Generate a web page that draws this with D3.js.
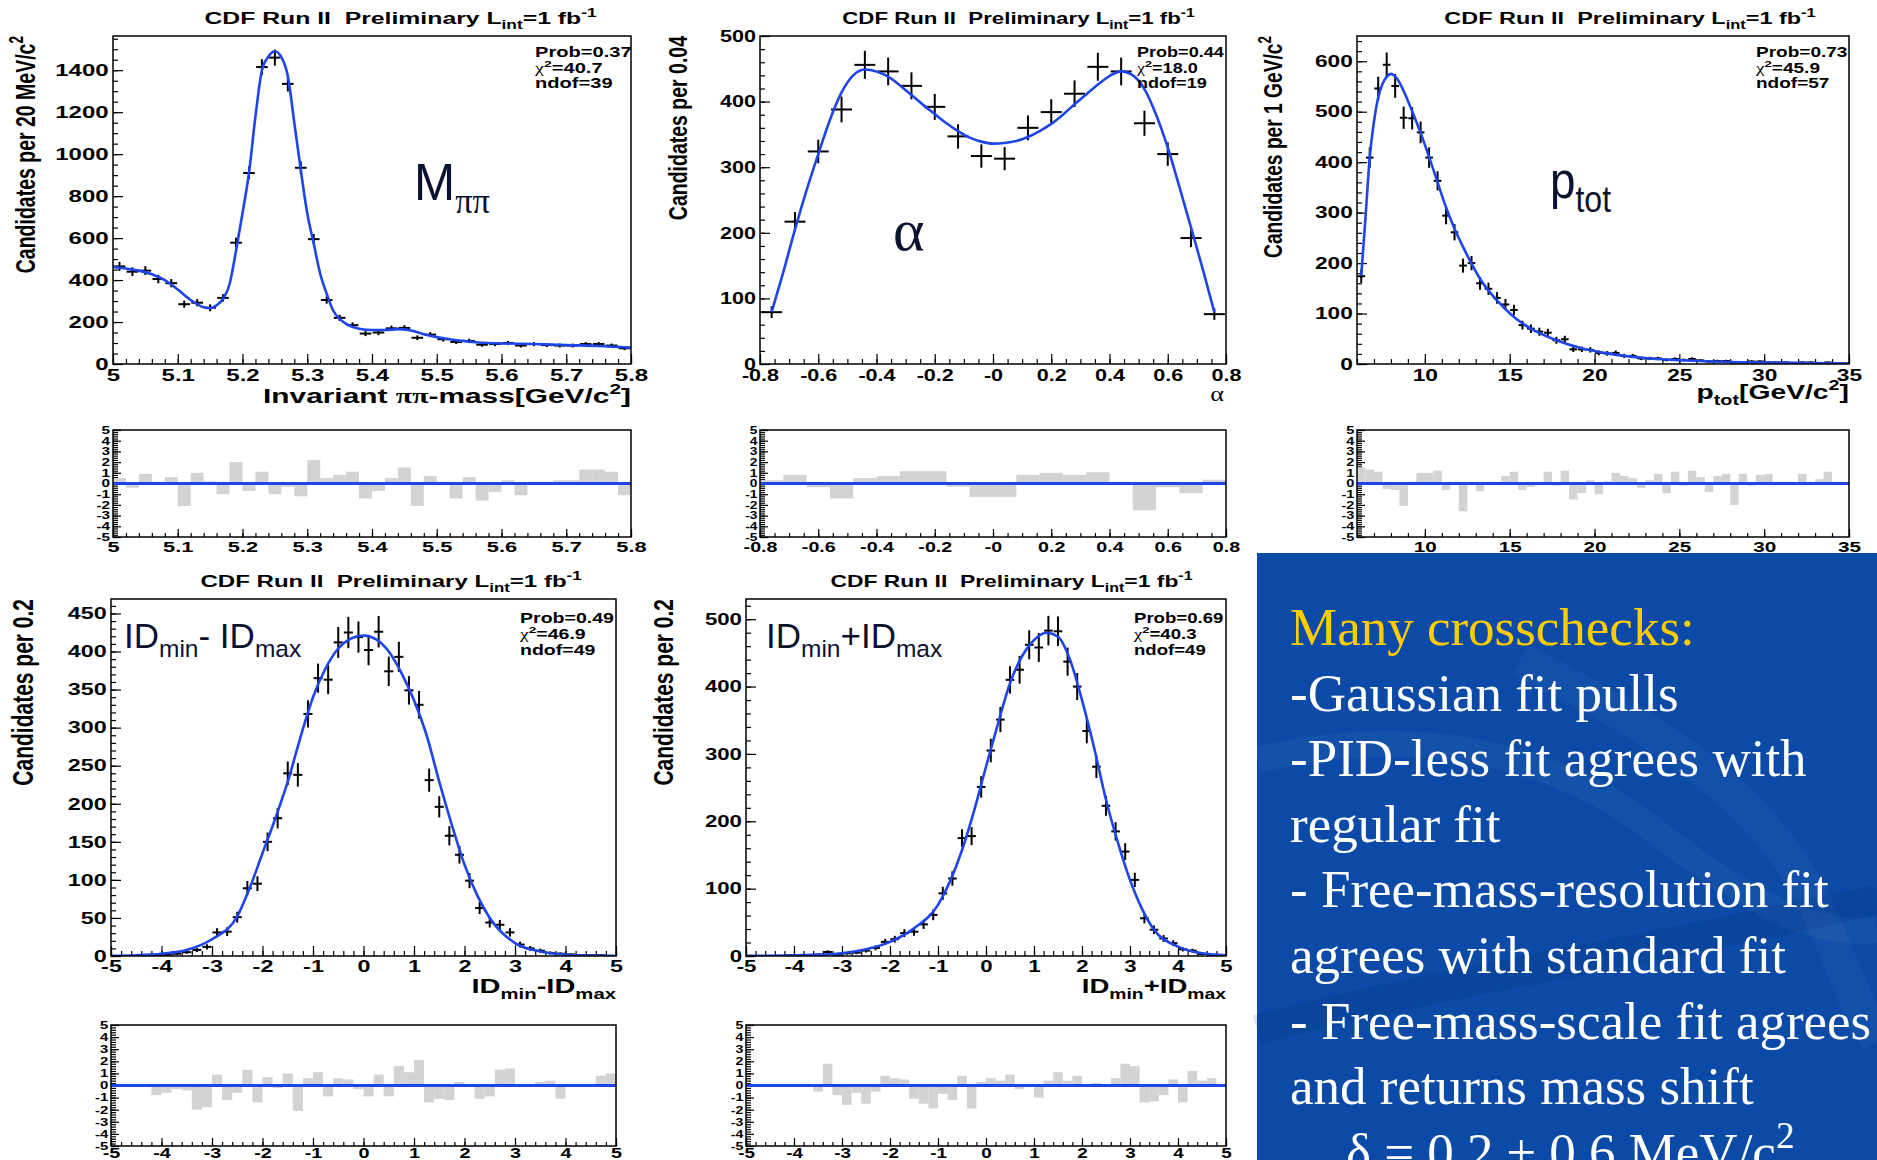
<!DOCTYPE html>
<html>
<head>
<meta charset="utf-8">
<script src="https://d3js.org/d3.v7.min.js"></script>
<style>
  body { margin: 0; background: #ffffff; }
  #canvas { display: block; }
</style>
</head>
<body>
<svg id="canvas" width="1877" height="1160"></svg>
<script>
// ---------- values ----------

// invariant pi-pi mass, 20 MeV/c^2 bins starting at 5.0
const massLow = 5.0;
const massBinWidth = 0.02;
const massCounts = [465, 440, 445, 405, 385, 285, 292, 268, 315, 578, 910, 1415, 1460, 1335, 935, 595, 305, 220, 185, 145,
    150, 170, 172, 125, 140, 118, 105, 110, 92, 95, 100, 88, 95, 90, 88, 88, 95, 95, 88, 75];
const massPulls = [0.5, -0.4, 0.9, -0.1, 0.6, -2.1, 1.0, 0.2, -1.0, 2.0, -0.7, 1.1, -1.0, -0.3, -1.2, 2.2, 0.5, 0.8, 1.1, -1.4,
    -0.7, 0.5, 1.5, -2.1, 0.7, -0.1, -1.4, 0.6, -1.6, -0.8, 0.3, -1.1, 0.05, 0.1, 0.3, 0.3, 1.3, 1.3, 1.1, -1.1];
const massFitX = [5.00, 5.02, 5.04, 5.06, 5.08, 5.10, 5.12, 5.14, 5.15, 5.16, 5.17, 5.18, 5.19, 5.20, 5.21, 5.22, 5.23, 5.24,
    5.25, 5.26, 5.27, 5.28, 5.29, 5.30, 5.31, 5.32, 5.33, 5.34, 5.35, 5.36, 5.38, 5.40, 5.42, 5.44, 5.46, 5.48, 5.50, 5.52,
    5.54, 5.56, 5.58, 5.60, 5.65, 5.70, 5.75, 5.80];
const massFitY = [462, 455, 445, 428, 400, 355, 305, 270, 266, 280, 311, 380, 540, 718, 910, 1180, 1400, 1465,
    1490, 1462, 1372, 1150, 925, 718, 574, 430, 335, 255, 215, 191, 168, 162, 162, 166, 160, 142, 128, 118,
    110, 104, 100, 98, 95, 90, 86, 78];
const massXTicks = [5, 5.1, 5.2, 5.3, 5.4, 5.5, 5.6, 5.7, 5.8];
const massXLabels = ["5", "5.1", "5.2", "5.3", "5.4", "5.5", "5.6", "5.7", "5.8"];
const massYTicks = [0, 200, 400, 600, 800, 1000, 1200, 1400];

// alpha, bins of 0.08 from -0.8
const alphaLow = -0.8;
const alphaBinWidth = 0.08;
const alphaCounts = [79, 217, 324, 388, 456, 446, 424, 392, 347, 317, 313, 360, 384, 412, 453, 446, 367, 320, 192, 76];
const alphaPulls = [0.3, 0.8, -0.35, -1.4, 0.5, 0.7, 1.15, 1.15, -0.3, -1.25, -1.25, 0.8, 1.0, 0.8, 1.05, 0, -2.5, -0.35, -0.9, 0.35];
const alphaFitX = [-0.76, -0.72, -0.68, -0.64, -0.60, -0.56, -0.52, -0.48, -0.44, -0.40, -0.36, -0.32, -0.28, -0.24, -0.20,
    -0.16, -0.12, -0.08, -0.04, 0, 0.04, 0.08, 0.12, 0.16, 0.20, 0.24, 0.28, 0.32, 0.36, 0.40, 0.44, 0.48, 0.52, 0.56,
    0.60, 0.64, 0.68, 0.72, 0.76];
const alphaFitY = [79, 140, 205, 265, 320, 372, 414, 440, 449, 446, 438, 425, 410, 395, 381,
    367, 355, 345, 339, 336, 337, 340, 346, 355, 366, 380, 396, 411, 426, 439, 446, 440, 419, 380,
    330, 270, 208, 145, 79];
const alphaXTicks = [-0.8, -0.6, -0.4, -0.2, 0, 0.2, 0.4, 0.6, 0.8];
const alphaXLabels = ["-0.8", "-0.6", "-0.4", "-0.2", "-0", "0.2", "0.4", "0.6", "0.8"];
const alphaYTicks = [0, 100, 200, 300, 400, 500];

// total momentum, bins of 0.5 GeV from 6
const ptotLow = 6.0;
const ptotBinWidth = 0.5;
const ptotCounts = [174, 409, 546, 593, 551, 488, 487, 459, 409, 363, 294, 261, 195, 200, 160, 149, 131, 118, 107, 77,
    70, 64, 62, 47, 49, 29, 29, 28, 22, 21, 22, 16, 16, 11, 11, 11, 8, 10, 8, 10,
    7, 5, 6, 6, 3, 3, 5, 5, 3, 3, 3, 1, 3, 3, 1, 3, 1, 1];
const ptotPulls = [1.5, 1.3, 1.1, -0.5, -0.6, -2.1, -0.1, 1.0, 1.0, 1.2, -0.6, 0.05, -2.6, 0.05, -0.7, 0, 0, 0.7, 1.1, -0.6,
    -0.3, 0, 1.1, -0.2, 1.2, -1.5, -0.9, 0.3, -1.0, 0.2, 1.0, 0.7, 0.5, -0.4, 0.3, 0.9, -0.9, 1.1, -0.2, 1.2,
    0.6, -0.8, 0.7, 0.9, -2.0, 0.9, -0.2, 0.8, 0.9, 0, 0, -0.1, 0.9, 0, 0.4, 1.1, 0, 0];
const ptotFitX = [6.25, 6.5, 6.75, 7.0, 7.25, 7.5, 7.75, 8.0, 8.25, 8.5, 8.75, 9.25, 9.75, 10.25, 10.75, 11.25, 11.75,
    12.25, 12.75, 13.25, 14.25, 15.25, 16.25, 17.75, 19.25, 20.75, 23.25, 25.5, 28, 30.25, 35];
const ptotFitY = [175, 290, 409, 480, 528, 555, 569, 575, 570, 558, 541, 501, 458, 410, 360, 310, 268,
    232, 199, 169, 126, 93, 70, 47, 31, 21, 11, 7, 4, 3, 1];
const ptotXTicks = [10, 15, 20, 25, 30, 35];
const ptotXLabels = ["10", "15", "20", "25", "30", "35"];
const ptotYTicks = [0, 100, 200, 300, 400, 500, 600];

// ID_min - ID_max, bins of 0.2 from -5
const idDiffLow = -5;
const idDiffBinWidth = 0.2;
const idDiffCounts = [0, 0, 0, 1, 1, 2, 3, 5, 8, 12, 31, 32, 51, 89, 95, 150, 181, 240, 238, 318,
    365, 363, 412, 425, 419, 402, 426, 374, 393, 349, 330, 231, 196, 158, 133, 99, 63, 44, 41, 31,
    15, 10, 7, 4, 3, 2, 1, 1, 1, 0];
const idDiffPulls = [0, 0, 0, 0, -0.8, -0.6, -0.3, -0.4, -2.0, -1.8, 0.9, -1.2, -0.6, 1.3, -1.4, 0.7, -0.2, 1.0, -2.1, 0.6,
    1.1, -0.9, 0.6, 0.5, -0.3, -0.9, 0.9, -0.9, 1.6, 1.1, 2.1, -1.4, -1.1, -1.2, 0.3, 0, -1.1, -0.9, 1.3, 1.4,
    0, 0, 0.3, 0.4, -1.1, 0, 0, 0, 0.8, 1.0];
const idDiffFitX = [-5, -4.5, -4, -3.5, -3, -2.5, -2.25, -2, -1.75, -1.5, -1.25, -1, -0.75, -0.5, -0.25, 0, 0.25, 0.5,
    0.75, 1, 1.25, 1.5, 1.75, 2, 2.25, 2.5, 3, 3.5, 4, 4.5, 5];
const idDiffFitY = [0.3, 1, 3, 8, 22, 52, 90, 135, 180, 229, 287, 340, 378, 404, 417, 421, 416, 400,
    372, 336, 290, 229, 172, 120, 80, 50, 17, 6, 2, 0.5, 0.2];
const idDiffYTicks = [0, 50, 100, 150, 200, 250, 300, 350, 400, 450];

// ID_min + ID_max, bins of 0.2 from -5
const idSumLow = -5;
const idSumBinWidth = 0.2;
const idSumCounts = [0, 0, 0, 0, 1, 1, 1, 2, 6, 2, 4, 5, 8, 12, 21, 25, 34, 36, 47, 61,
    93, 115, 175, 178, 251, 305, 351, 410, 425, 462, 458, 483, 482, 437, 400, 334, 281, 223, 185, 155,
    113, 56, 39, 26, 19, 10, 8, 3, 1, 1];
const idSumPulls = [0, 0, 0, 0, 0, 0, 0, -0.5, 1.8, -0.8, -1.6, -0.6, -1.5, -0.5, 0.8, 0.6, 0.5, -1.1, -1.5, -1.9,
    -0.7, -1.2, 0.8, -1.9, 0.3, 0.6, 0.4, 0.9, -0.3, 0, -1.0, 0.4, 1.1, 0.4, 0.8, 0, 0.2, -0.1, 0.6, 1.8,
    1.6, -1.4, -1.3, -0.8, 0.5, -1.4, 1.2, 0.4, 0.6, 0];
const idSumFitX = [-5, -4, -3.5, -3, -2.5, -2, -1.5, -1, -0.5, -0.25, 0, 0.25, 0.5, 0.75, 1, 1.25, 1.5, 1.75, 2,
    2.25, 2.5, 2.75, 3, 3.25, 3.5, 4, 4.5, 5];
const idSumFitY = [0.2, 1, 2, 4, 10, 21, 41, 76, 157, 215, 281, 345, 405, 445, 469, 480, 474, 440, 380,
    310, 232, 168, 113, 70, 39, 14, 4, 1];
const idSumYTicks = [0, 100, 200, 300, 400, 500];

const idXTicks = [-5, -4, -3, -2, -1, 0, 1, 2, 3, 4, 5];
const idXLabels = ["-5", "-4", "-3", "-2", "-1", "0", "1", "2", "3", "4", "5"];
const pullTicks = [-5, -4, -3, -2, -1, 0, 1, 2, 3, 4, 5];

// fit quality boxes
const statProb = ["0.37", "0.44", "0.73", "0.49", "0.69"];
const statChi2 = ["40.7", "18.0", "45.9", "46.9", "40.3"];
const statNdof = ["39", "19", "57", "49", "49"];

const plotTitle = ["CDF Run II  Preliminary L", { t: "int", sub: true }, "=1 fb", { t: "-1", sup: true }];

const boxLines = [
    "Many crosschecks:",
    "-Gaussian fit pulls",
    "-PID-less fit agrees with",
    "regular fit",
    "- Free-mass-resolution fit",
    "agrees with standard fit",
    "- Free-mass-scale fit agrees",
    "and returns mass shift"
];

// ---------- drawing ----------
const sans = "'Liberation Sans', Arial, Helvetica, sans-serif";
const serif = "'Liberation Serif', 'Times New Roman', serif";
const fitBlue = "#1d45e8";
const labelInk = "#0b1230";

const svg = d3.select("#canvas");
svg.append("rect").attr("width", 1877).attr("height", 1160).attr("fill", "#ffffff");

const richText = (parent, x, y, parts, o) => {
    let tf = `translate(${x},${y}) scale(${o.sx || 1},1)`;
    if (o.rotate) tf += " rotate(-90)";
    const g = parent.append("g").attr("transform", tf);
    const text = g.append("text")
        .attr("text-anchor", o.anchor || "start")
        .attr("font-family", o.family || sans)
        .attr("font-weight", o.weight || "bold")
        .attr("font-size", o.size)
        .attr("fill", o.fill || "#000")
        .style("white-space", "pre");
    const subShift = (o.subShift || 0.3) * o.size;
    const supShift = -0.42 * o.size;
    let shift = 0;
    parts.forEach(part => {
        const p = typeof part === "string" ? { t: part } : part;
        const target = p.sub ? subShift : p.sup ? supShift : 0;
        const span = text.append("tspan").attr("dy", target - shift).text(p.t);
        shift = target;
        if (p.sub || p.sup) span.attr("font-size", o.size * 0.7);
        if (p.family) span.attr("font-family", p.family);
        if (p.weight) span.attr("font-weight", p.weight);
    });
    return { g, text };
};

const minorTicks = (domain, step) => {
    const out = [];
    for (let k = Math.ceil(domain[0] / step - 1e-6); k * step <= domain[1] + 1e-9; k++) {
        out.push(+(k * step).toFixed(6));
    }
    return out;
};

// ROOT style: ticks inside the frame, only on left and bottom
const drawAxes = (g, x, y, a, sx) => {
    const bottom = y.range()[0];
    const left = x.range()[0];

    g.append("g").attr("transform", `translate(0,${bottom})`)
        .call(d3.axisBottom(x).tickValues(minorTicks(x.domain(), a.xMinor)).tickFormat("")
            .tickSizeInner(-a.minorLen).tickSizeOuter(0))
        .call(s => s.select(".domain").remove());
    const xa = g.append("g").attr("transform", `translate(0,${bottom})`)
        .call(d3.axisBottom(x).tickValues(a.xTicks).tickFormat((d, i) => a.xLabels[i])
            .tickSizeInner(-a.majorLen).tickSizeOuter(0).tickPadding(a.xPad))
        .call(s => s.select(".domain").remove());
    xa.attr("font-size", a.xFont).attr("font-family", sans).attr("font-weight", "bold");
    xa.selectAll("text").attr("transform", `scale(${sx},1)`);

    g.append("g").attr("transform", `translate(${left},0)`)
        .call(d3.axisLeft(y).tickValues(minorTicks(y.domain(), a.yMinor)).tickFormat("")
            .tickSizeInner(-a.yMinorLen).tickSizeOuter(0))
        .call(s => s.select(".domain").remove());
    const ya = g.append("g").attr("transform", `translate(${left},0)`)
        .call(d3.axisLeft(y).tickValues(a.yTicks).tickFormat(d => d)
            .tickSizeInner(-a.yMajorLen).tickSizeOuter(0).tickPadding(a.yPad))
        .call(s => s.select(".domain").remove());
    ya.attr("font-size", a.yFont).attr("font-family", sans).attr("font-weight", "bold");
    ya.selectAll("text").attr("transform", `scale(${sx},1)`);

    g.selectAll(".tick line").attr("stroke-width", 1.2);
};

const drawPanel = p => {
    const f = p.frame;
    const g = svg.append("g");

    // title sets the horizontal stretch used for every ROOT text of the panel
    const title = richText(g, (p.titleSpan[0] + p.titleSpan[1]) / 2, p.titleBase, plotTitle,
        { size: p.titleSize, anchor: "middle" });
    const sx = (p.titleSpan[1] - p.titleSpan[0]) / title.text.node().getBBox().width;
    title.g.attr("transform", `translate(${(p.titleSpan[0] + p.titleSpan[1]) / 2},${p.titleBase}) scale(${sx},1)`);

    const x = d3.scaleLinear().domain(p.xDomain).range([f.left, f.right]);
    const y = d3.scaleLinear().domain([0, p.yMax]).range([f.bottom, f.top]);

    const clipId = "clip-" + p.id;
    svg.append("clipPath").attr("id", clipId).append("rect")
        .attr("x", f.left).attr("y", f.top)
        .attr("width", f.right - f.left).attr("height", f.bottom - f.top);

    drawAxes(g, x, y, {
        xTicks: p.xTicks, xLabels: p.xLabels, xMinor: p.xMinor, xFont: 16.5, xPad: p.xPad,
        yTicks: p.yTicks, yMinor: p.yMinor, yFont: 16.5, yPad: 3,
        majorLen: 10, minorLen: 5, yMajorLen: 10, yMinorLen: 5
    }, sx);

    const bins = p.counts.map((n, i) => ({ c: p.low + (i + 0.5) * p.width, n }))
        .filter(d => d.n > 0);

    const marks = g.append("g").attr("clip-path", `url(#${clipId})`)
        .attr("stroke", "#000").attr("stroke-width", 2);
    marks.selectAll("line.hbar").data(bins).enter().append("line").attr("class", "hbar")
        .attr("x1", d => x(d.c - p.width * 0.45)).attr("x2", d => x(d.c + p.width * 0.45))
        .attr("y1", d => y(d.n)).attr("y2", d => y(d.n));
    marks.selectAll("line.vbar").data(bins).enter().append("line").attr("class", "vbar")
        .attr("x1", d => x(d.c)).attr("x2", d => x(d.c))
        .attr("y1", d => y(d.n - Math.sqrt(d.n))).attr("y2", d => y(d.n + Math.sqrt(d.n)));

    const fit = p.fitX.map((v, i) => [v, p.fitY[i]]);
    g.append("path").datum(fit)
        .attr("clip-path", `url(#${clipId})`)
        .attr("fill", "none").attr("stroke", fitBlue).attr("stroke-width", 2.6)
        .attr("d", d3.line().x(d => x(d[0])).y(d => y(d[1])).curve(d3.curveMonotoneX));

    g.append("rect").attr("x", f.left).attr("y", f.top)
        .attr("width", f.right - f.left).attr("height", f.bottom - f.top)
        .attr("fill", "none").attr("stroke", "#000").attr("stroke-width", 1.5);

    // fit quality
    const k = p.statIndex;
    const statLines = [
        ["Prob=" + statProb[k]],
        [{ t: "χ", family: serif, weight: "normal" }, { t: "2", sup: true }, "=" + statChi2[k]],
        ["ndof=" + statNdof[k]]
    ];
    statLines.forEach((line, i) => {
        richText(g, p.statsX, p.statsBase + i * p.statsGap, line, { size: 13.8, sx });
    });

    // axis titles
    richText(g, p.yTitleX, f.top, p.yTitle, { size: p.yTitleSize, anchor: "end", rotate: true, sx });
    richText(g, p.xTitleRight, p.xTitleBase, p.xTitle,
        { size: p.xTitleSize, anchor: "end", sx, family: p.xTitleFamily, weight: p.xTitleWeight });

    // large overlay label
    const b = p.big;
    richText(g, b.x, b.y, b.parts, {
        size: b.size, weight: "normal", family: b.family, fill: labelInk,
        subShift: b.subShift, sx: b.sx
    });

    // pulls
    const py = d3.scaleLinear().domain([-5, 5]).range([p.pullBottom, p.pullTop]);
    const pg = svg.append("g");
    drawAxes(pg, x, py, {
        xTicks: p.xTicks, xLabels: p.xLabels, xMinor: p.xMinor, xFont: p.pullXFont, xPad: p.pullXPad,
        yTicks: pullTicks, yMinor: 0.2, yFont: 10.5, yPad: 2,
        majorLen: 8, minorLen: 4, yMajorLen: 8, yMinorLen: 5
    }, sx);

    pg.append("g").selectAll("rect").data(p.pulls).enter().append("rect")
        .attr("x", (v, i) => x(p.low + i * p.width))
        .attr("width", (v, i) => x(p.low + (i + 1) * p.width) - x(p.low + i * p.width))
        .attr("y", v => py(Math.max(v, 0)))
        .attr("height", v => Math.abs(py(v) - py(0)))
        .attr("fill", "#d3d3d3");
    pg.append("line")
        .attr("x1", f.left).attr("x2", f.right)
        .attr("y1", py(0)).attr("y2", py(0))
        .attr("stroke", fitBlue).attr("stroke-width", 3);
    pg.append("rect").attr("x", f.left).attr("y", p.pullTop)
        .attr("width", f.right - f.left).attr("height", p.pullBottom - p.pullTop)
        .attr("fill", "none").attr("stroke", "#000").attr("stroke-width", 1.5);
};

const topRow = { top: 36, bottom: 364, pullTop: 430, pullBottom: 537 };
const bottomRow = { top: 599, bottom: 956, pullTop: 1025, pullBottom: 1146 };

const panels = [
    {
        id: "mass", statIndex: 0,
        frame: { left: 113, right: 631, top: topRow.top, bottom: topRow.bottom },
        pullTop: topRow.pullTop, pullBottom: topRow.pullBottom,
        titleSpan: [204, 597], titleBase: 24, titleSize: 17,
        xDomain: [5.0, 5.8], yMax: 1563, xMinor: 0.02, yMinor: 50, xPad: 5.5,
        low: massLow, width: massBinWidth, counts: massCounts, pulls: massPulls,
        fitX: massFitX, fitY: massFitY,
        xTicks: massXTicks, xLabels: massXLabels, yTicks: massYTicks,
        statsX: 535, statsBase: 57, statsGap: 15.5,
        yTitle: ["Candidates per 20 MeV/c", { t: "2", sup: true }], yTitleX: 35, yTitleSize: 19.5,
        xTitle: ["Invariant ", { t: "ππ", family: serif }, "-mass[GeV/c", { t: "2", sup: true }, "]"],
        xTitleRight: 631, xTitleBase: 403, xTitleSize: 20.5,
        pullXFont: 15, pullXPad: 4.4,
        big: { x: 414, y: 200, size: 52, sx: 0.95, subShift: 0.25, parts: ["M", { t: "ππ", sub: true, family: serif }] }
    },
    {
        id: "alpha", statIndex: 1,
        frame: { left: 760, right: 1226, top: topRow.top, bottom: topRow.bottom },
        pullTop: topRow.pullTop, pullBottom: topRow.pullBottom,
        titleSpan: [842, 1195], titleBase: 24, titleSize: 17,
        xDomain: [-0.8, 0.8], yMax: 500, xMinor: 0.05, yMinor: 20, xPad: 5.5,
        low: alphaLow, width: alphaBinWidth, counts: alphaCounts, pulls: alphaPulls,
        fitX: alphaFitX, fitY: alphaFitY,
        xTicks: alphaXTicks, xLabels: alphaXLabels, yTicks: alphaYTicks,
        statsX: 1137, statsBase: 57, statsGap: 15.5,
        yTitle: ["Candidates per 0.04"], yTitleX: 687, yTitleSize: 19.5,
        xTitle: ["α"], xTitleRight: 1224, xTitleBase: 401, xTitleSize: 20,
        xTitleFamily: serif, xTitleWeight: "normal",
        pullXFont: 15, pullXPad: 4.4,
        big: { x: 893, y: 250, size: 60, sx: 1, family: serif, parts: ["α"] }
    },
    {
        id: "ptot", statIndex: 2,
        frame: { left: 1357, right: 1849, top: topRow.top, bottom: topRow.bottom },
        pullTop: topRow.pullTop, pullBottom: topRow.pullBottom,
        titleSpan: [1444, 1816], titleBase: 24, titleSize: 17,
        xDomain: [6, 35], yMax: 650, xMinor: 1, yMinor: 20, xPad: 5.5,
        low: ptotLow, width: ptotBinWidth, counts: ptotCounts, pulls: ptotPulls,
        fitX: ptotFitX, fitY: ptotFitY,
        xTicks: ptotXTicks, xLabels: ptotXLabels, yTicks: ptotYTicks,
        statsX: 1756, statsBase: 57, statsGap: 15.5,
        yTitle: ["Candidates per 1 GeV/c", { t: "2", sup: true }], yTitleX: 1282, yTitleSize: 19.2,
        xTitle: ["p", { t: "tot", sub: true }, "[GeV/c", { t: "2", sup: true }, "]"],
        xTitleRight: 1849, xTitleBase: 399, xTitleSize: 20.5,
        pullXFont: 15, pullXPad: 4.4,
        big: { x: 1550, y: 198, size: 52, sx: 0.88, subShift: 0.27, parts: ["p", { t: "tot", sub: true }] }
    },
    {
        id: "iddiff", statIndex: 3,
        frame: { left: 111, right: 616, top: bottomRow.top, bottom: bottomRow.bottom },
        pullTop: bottomRow.pullTop, pullBottom: bottomRow.pullBottom,
        titleSpan: [200, 582], titleBase: 587, titleSize: 17,
        xDomain: [-5, 5], yMax: 469, xMinor: 0.2, yMinor: 10, xPad: 4.6,
        low: idDiffLow, width: idDiffBinWidth, counts: idDiffCounts, pulls: idDiffPulls,
        fitX: idDiffFitX, fitY: idDiffFitY,
        xTicks: idXTicks, xLabels: idXLabels, yTicks: idDiffYTicks,
        statsX: 520, statsBase: 623, statsGap: 16,
        yTitle: ["Candidates per 0.2"], yTitleX: 33, yTitleSize: 21,
        xTitle: ["ID", { t: "min", sub: true }, "-ID", { t: "max", sub: true }],
        xTitleRight: 616, xTitleBase: 993, xTitleSize: 20.5,
        pullXFont: 14, pullXPad: 2,
        big: { x: 124, y: 648, size: 35, sx: 1, subShift: 0.26,
            parts: ["ID", { t: "min", sub: true }, "- ID", { t: "max", sub: true }] }
    },
    {
        id: "idsum", statIndex: 4,
        frame: { left: 746, right: 1226, top: bottomRow.top, bottom: bottomRow.bottom },
        pullTop: bottomRow.pullTop, pullBottom: bottomRow.pullBottom,
        titleSpan: [830, 1193], titleBase: 587, titleSize: 17,
        xDomain: [-5, 5], yMax: 530, xMinor: 0.2, yMinor: 20, xPad: 4.6,
        low: idSumLow, width: idSumBinWidth, counts: idSumCounts, pulls: idSumPulls,
        fitX: idSumFitX, fitY: idSumFitY,
        xTicks: idXTicks, xLabels: idXLabels, yTicks: idSumYTicks,
        statsX: 1134, statsBase: 623, statsGap: 16,
        yTitle: ["Candidates per 0.2"], yTitleX: 673, yTitleSize: 21,
        xTitle: ["ID", { t: "min", sub: true }, "+ID", { t: "max", sub: true }],
        xTitleRight: 1226, xTitleBase: 993, xTitleSize: 20.5,
        pullXFont: 14, pullXPad: 2,
        big: { x: 766, y: 648, size: 35, sx: 1, subShift: 0.26,
            parts: ["ID", { t: "min", sub: true }, "+ID", { t: "max", sub: true }] }
    }
];

panels.forEach(drawPanel);

// ---------- slide text box ----------
const box = svg.append("g");
box.append("rect").attr("x", 1257).attr("y", 553).attr("width", 620).attr("height", 607).attr("fill", "#0b4aa6");
box.append("path")
    .attr("d", "M1257,760 C1420,720 1560,760 1640,820 C1720,880 1800,940 1877,930")
    .attr("fill", "none").attr("stroke", "#ffffff").attr("stroke-opacity", 0.04).attr("stroke-width", 26);
box.append("path")
    .attr("d", "M1520,660 C1600,700 1720,760 1790,860 C1830,920 1850,1000 1877,1040")
    .attr("fill", "none").attr("stroke", "#ffffff").attr("stroke-opacity", 0.035).attr("stroke-width", 34);
box.append("path")
    .attr("d", "M1257,1030 C1400,990 1600,960 1877,900")
    .attr("fill", "none").attr("stroke", "#001a60").attr("stroke-opacity", 0.12).attr("stroke-width", 30);

boxLines.forEach((line, i) => {
    richText(box, 1290, 645 + i * 65.6, [line], {
        size: 53, family: serif, weight: "normal", fill: i === 0 ? "#ffcc00" : "#ffffff"
    });
});
richText(box, 1346, 645 + 8 * 65.6, ["δ = 0.2 ± 0.6 MeV/c", { t: "2", sup: true }], {
    size: 53, family: serif, weight: "normal", fill: "#ffffff"
});
</script>
</body>
</html>
